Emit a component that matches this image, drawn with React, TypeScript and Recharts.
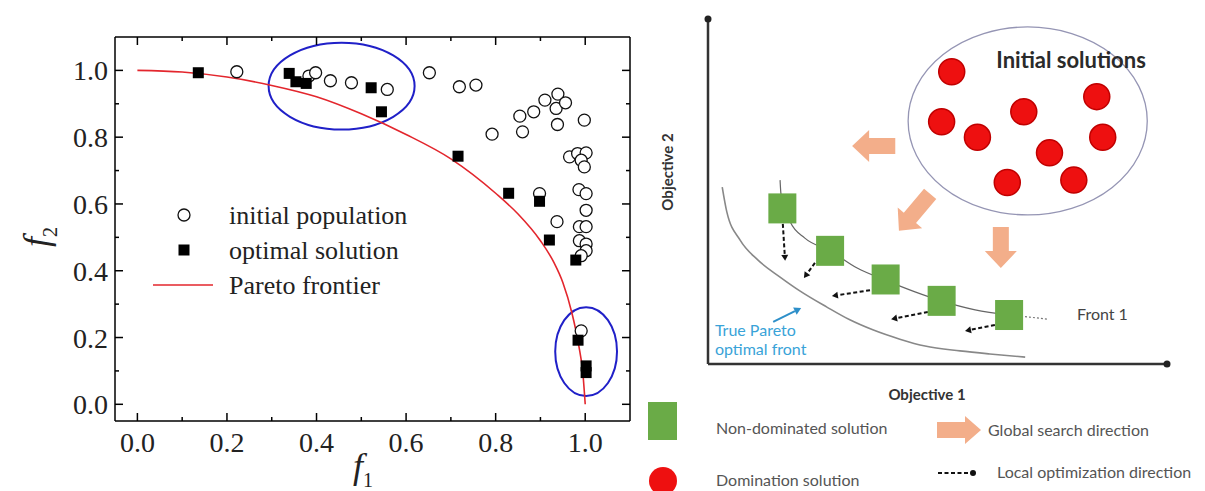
import React from "react";
import {
  ComposedChart,
  Legend,
  Line,
  ReferenceArea,
  ReferenceDot,
  ReferenceLine,
  Scatter,
  XAxis,
  YAxis,
} from "recharts";

const SERIF = '"Liberation Serif", "Times New Roman", serif';
const SANS = 'Lato, "Open Sans", sans-serif';

// ---------- left panel: f1 / f2 scatter ----------
const F_TICKS = [0, 0.1, 0.2, 0.3, 0.4, 0.5, 0.6, 0.7, 0.8, 0.9, 1.0];
const F_DOMAIN: [number, number] = [-0.05, 1.1];

const INITIAL_POPULATION: [number, number][] = [
  [0.222, 0.996], [0.383, 0.983], [0.398, 0.993], [0.431, 0.969], [0.478, 0.963],
  [0.558, 0.943], [0.652, 0.993], [0.719, 0.951], [0.756, 0.956], [0.792, 0.809],
  [0.854, 0.863], [0.86, 0.816], [0.885, 0.876], [0.91, 0.911], [0.939, 0.929],
  [0.935, 0.886], [0.956, 0.903], [0.938, 0.838], [0.998, 0.851], [0.965, 0.741],
  [0.983, 0.751], [1.002, 0.753], [0.991, 0.731], [0.998, 0.711], [0.986, 0.643],
  [1.002, 0.631], [0.898, 0.631], [1.002, 0.581], [0.937, 0.547], [0.987, 0.532],
  [1.002, 0.532], [0.987, 0.49], [1.002, 0.48], [1.002, 0.46], [0.991, 0.445],
  [0.991, 0.22],
];

const OPTIMAL_SOLUTIONS: [number, number][] = [
  [0.136, 0.993], [0.339, 0.991], [0.354, 0.966], [0.377, 0.961], [0.522, 0.948],
  [0.545, 0.876], [0.716, 0.743], [0.829, 0.632], [0.898, 0.608], [0.92, 0.492],
  [0.979, 0.432], [0.984, 0.192], [1.002, 0.115], [1.002, 0.095],
];

const PARETO_FRONTIER: [number, number][] = [
  [0, 1.0], [0.1, 0.995], [0.2, 0.98], [0.3, 0.955], [0.4, 0.921], [0.5, 0.87],
  [0.6, 0.808], [0.7, 0.735], [0.8, 0.632], [0.85, 0.57], [0.9, 0.49], [0.93, 0.425],
  [0.95, 0.365], [0.97, 0.275], [0.985, 0.18], [0.995, 0.09], [1.0, 0],
];

// x1, x2, y1, y2 of the blue highlight ellipses
const HIGHLIGHTS: [number, number, number, number][] = [
  [0.293, 0.619, 0.823, 1.083],
  [0.933, 1.071, 0.025, 0.291],
];

// corners used only to bind the mirrored frame axes
const FRAME_CORNERS: [number, number][] = [[-0.05, -0.05], [1.1, 1.1]];

const LEFT_LEGEND = ["initial population", "optimal solution", "Pareto frontier"];

// ---------- right panel: schematic (objective space 0..10) ----------
const DOMINATED: [number, number][] = [
  [5.31, 8.47], [5.09, 7.02], [5.87, 6.57], [6.88, 7.31], [8.47, 7.75],
  [8.6, 6.57], [7.44, 6.12], [6.52, 5.26], [7.97, 5.33],
];

const NON_DOMINATED: [number, number][] = [
  [1.62, 4.51], [2.66, 3.28], [3.87, 2.45], [5.09, 1.83], [6.56, 1.42],
];

const FRONT_1: [number, number][] = [
  [1.57, 5.33], [1.59, 4.93], [1.79, 4.12], [2.11, 3.65], [2.66, 3.28], [3.25, 2.78],
  [3.86, 2.43], [4.51, 2.09], [5.08, 1.83], [5.82, 1.57], [6.56, 1.42],
];
const FRONT_1_TAIL: [number, number][] = [[6.56, 1.42], [7.0, 1.36], [7.39, 1.3]];

const TRUE_FRONT: [number, number][] = [
  [0.31, 5.13], [0.41, 4.41], [0.7, 3.59], [1.09, 3.01], [1.57, 2.52], [2.0, 2.12],
  [2.59, 1.65], [3.09, 1.28], [3.59, 0.99], [4.18, 0.72], [4.73, 0.52], [5.49, 0.38],
  [6.14, 0.29], [6.91, 0.2],
];

// [fromX, fromY, toX, toY]
const LOCAL_MOVES: [number, number, number, number][] = [
  [1.63, 4.06, 1.68, 2.99],
  [2.33, 2.93, 2.09, 2.49],
  [3.53, 2.14, 2.7, 1.97],
  [4.79, 1.51, 3.99, 1.3],
  [6.25, 1.13, 5.6, 0.96],
];

const GLOBAL_MOVES: [number, number, number, number][] = [
  [4.08, 6.32, 3.14, 6.32],
  [4.84, 4.93, 4.16, 3.86],
  [6.38, 3.97, 6.38, 2.78],
];

const TRUE_FRONT_POINTER: [number, number, number, number] = [1.42, 1.22, 2.03, 1.62];

const INITIAL_REGION: [number, number, number, number] = [4.36, 9.57, 4.32, 9.77];

const NOTES = [
  { id: "initial", text: "Initial solutions", x: 7.91, y: 8.58 },
  { id: "front", text: "Front 1", x: 8.04, y: 1.28 },
  { id: "pareto", text: "True Pareto", x: 0.15, y: 0.81 },
  { id: "pareto", text: "optimal front", x: 0.15, y: 0.26 },
];

const NOTE_STYLE: Record<string, React.SVGProps<SVGTextElement>> = {
  initial: { textAnchor: "middle", fontSize: 22, fontWeight: 700, fill: "#2a2a2a" },
  front: { textAnchor: "start", fontSize: 16, fill: "#444" },
  pareto: { textAnchor: "start", fontSize: 16, fill: "#39a3d8" },
};

const RIGHT_LEGEND = [
  "Non-dominated solution",
  "Domination solution",
  "Global search direction",
  "Local optimization direction",
];

const toXY = (pts: [number, number][]) => pts.map(([x, y]) => ({ x, y }));

const GREEN = "#6aab47";
const RED = "#ee1010";
const SALMON = "#f3ae8a";
const PARETO_RED = "#e3262d";
const AXIS_LINE = { stroke: "#000", strokeWidth: 1.5 };

const isMajor = (v: number) => Math.round(v * 10) % 2 === 0;

function arrowPoints(x1: number, y1: number, x2: number, y2: number, body: number, head: number, headLen: number) {
  const len = Math.hypot(x2 - x1, y2 - y1) || 1;
  const ux = (x2 - x1) / len;
  const uy = (y2 - y1) / len;
  const nx = -uy;
  const ny = ux;
  const bx = x2 - ux * headLen;
  const by = y2 - uy * headLen;
  return [
    [x1 + nx * body, y1 + ny * body],
    [bx + nx * body, by + ny * body],
    [bx + nx * head, by + ny * head],
    [x2, y2],
    [bx - nx * head, by - ny * head],
    [bx - nx * body, by - ny * body],
    [x1 - nx * body, y1 - ny * body],
  ]
    .map((p) => p.join(","))
    .join(" ");
}

// ---------- tick renderers (inward ticks, Origin style) ----------
function BottomTick(props: any) {
  const { x, y, payload } = props;
  const major = isMajor(payload.value);
  return (
    <g>
      <line x1={x} x2={x} y1={y} y2={y - (major ? 8 : 4)} stroke="#000" strokeWidth={1.5} />
      {major && (
        <text x={x} y={y + 31} textAnchor="middle" fontFamily={SERIF} fontSize={28} fill="#222">
          {payload.value.toFixed(1)}
        </text>
      )}
    </g>
  );
}

function LeftTick(props: any) {
  const { x, y, payload } = props;
  const major = isMajor(payload.value);
  return (
    <g>
      <line x1={x} x2={x + (major ? 8 : 4)} y1={y} y2={y} stroke="#000" strokeWidth={1.5} />
      {major && (
        <text x={x - 7} y={y + 10} textAnchor="end" fontFamily={SERIF} fontSize={28} fill="#222">
          {payload.value.toFixed(1)}
        </text>
      )}
    </g>
  );
}

function TopTick(props: any) {
  const { x, y, payload } = props;
  return <line x1={x} x2={x} y1={y} y2={y + (isMajor(payload.value) ? 8 : 4)} stroke="#000" strokeWidth={1.5} />;
}

function RightTick(props: any) {
  const { x, y, payload } = props;
  return <line x1={x} x2={x - (isMajor(payload.value) ? 8 : 4)} y1={y} y2={y} stroke="#000" strokeWidth={1.5} />;
}

const F1Title = () => (
  <text x={363} y={478} textAnchor="middle" fontFamily={SERIF} fontSize={36} fill="#222">
    <tspan fontStyle="italic">f</tspan>
    <tspan fontSize={20} dy={9}>1</tspan>
  </text>
);

const F2Title = () => (
  <text x={48} y={237} transform="rotate(-90, 48, 237)" textAnchor="middle" fontFamily={SERIF} fontSize={36} fill="#222">
    <tspan fontStyle="italic">f</tspan>
    <tspan fontSize={20} dy={9}>2</tspan>
  </text>
);

const OpenCircle = (p: any) => <circle cx={p.cx} cy={p.cy} r={6} fill="#fff" stroke="#111" strokeWidth={1.3} />;
const FilledSquare = (p: any) => <rect x={p.cx - 5.5} y={p.cy - 5.5} width={11} height={11} fill="#000" />;
const NoMark = () => <g />;

const BlueEllipse = (p: any) => (
  <ellipse
    cx={p.x + p.width / 2}
    cy={p.y + p.height / 2}
    rx={Math.abs(p.width) / 2}
    ry={Math.abs(p.height) / 2}
    fill="none"
    stroke="#2020c8"
    strokeWidth={2}
  />
);

const LeftLegendContent = () => (
  <svg width={300} height={110}>
    {LEFT_LEGEND.map((name, i) => (
      <g key={name} transform={`translate(0, ${20 + i * 35})`}>
        {i === 0 && <circle cx={44} cy={0} r={6} fill="#fff" stroke="#111" strokeWidth={1.3} />}
        {i === 1 && <rect x={38.5} y={-5.5} width={11} height={11} fill="#000" />}
        {i === 2 && <line x1={13} x2={73} y1={0} y2={0} stroke={PARETO_RED} strokeWidth={1.6} />}
        <text x={89} y={9} fontFamily={SERIF} fontSize={26} fill="#222">
          {name}
        </text>
      </g>
    ))}
  </svg>
);

function ParetoPanel() {
  return (
    <ComposedChart width={640} height={491} margin={{ top: 36, right: 9, bottom: 0, left: 0 }}>
      <XAxis
        type="number"
        dataKey="x"
        domain={F_DOMAIN}
        ticks={F_TICKS}
        interval={0}
        allowDataOverflow
        height={70}
        tickSize={0}
        tickMargin={0}
        tickLine={false}
        axisLine={AXIS_LINE}
        tick={BottomTick}
        label={F1Title}
      />
      <YAxis
        type="number"
        dataKey="y"
        domain={F_DOMAIN}
        ticks={F_TICKS}
        interval={0}
        allowDataOverflow
        width={115}
        tickSize={0}
        tickMargin={0}
        tickLine={false}
        axisLine={AXIS_LINE}
        tick={LeftTick}
        label={F2Title}
      />
      <XAxis
        xAxisId="top"
        orientation="top"
        type="number"
        dataKey="x"
        domain={F_DOMAIN}
        ticks={F_TICKS}
        interval={0}
        allowDataOverflow
        height={1}
        tickSize={0}
        tickMargin={0}
        tickLine={false}
        axisLine={AXIS_LINE}
        tick={TopTick}
      />
      <YAxis
        yAxisId="right"
        orientation="right"
        type="number"
        dataKey="y"
        domain={F_DOMAIN}
        ticks={F_TICKS}
        interval={0}
        allowDataOverflow
        width={1}
        tickSize={0}
        tickMargin={0}
        tickLine={false}
        axisLine={AXIS_LINE}
        tick={RightTick}
      />
      <Scatter
        xAxisId="top"
        yAxisId="right"
        data={toXY(FRAME_CORNERS)}
        shape={NoMark}
        legendType="none"
        isAnimationActive={false}
      />
      {HIGHLIGHTS.map(([x1, x2, y1, y2], i) => (
        <ReferenceArea key={i} x1={x1} x2={x2} y1={y1} y2={y2} shape={BlueEllipse} />
      ))}
      <Scatter
        name="initial population"
        data={toXY(INITIAL_POPULATION)}
        shape={OpenCircle}
        isAnimationActive={false}
      />
      <Scatter
        name="optimal solution"
        data={toXY(OPTIMAL_SOLUTIONS)}
        shape={FilledSquare}
        isAnimationActive={false}
      />
      <Line
        name="Pareto frontier"
        data={toXY(PARETO_FRONTIER)}
        dataKey="y"
        type="monotone"
        stroke={PARETO_RED}
        strokeWidth={1.6}
        dot={false}
        activeDot={false}
        isAnimationActive={false}
      />
      <Legend
        layout="vertical"
        align="center"
        verticalAlign="middle"
        content={LeftLegendContent}
        wrapperStyle={{ left: 140, top: 195, width: 300, height: 110 }}
      />
    </ComposedChart>
  );
}

// ---------- right panel renderers ----------
const RedDot = (p: any) => <circle cx={p.cx} cy={p.cy} r={13} fill={RED} stroke="#c00000" strokeWidth={1.5} />;
const GreenSquare = (p: any) => <rect x={p.cx - 14} y={p.cy - 15} width={28} height={30} fill={GREEN} />;

const NoteText = (p: any) => (
  <text x={p.cx} y={p.cy} fontFamily={SANS} {...NOTE_STYLE[p.payload.id]}>
    {p.payload.text}
  </text>
);

const GrayEllipse = (p: any) => (
  <ellipse
    cx={p.x + p.width / 2}
    cy={p.y + p.height / 2}
    rx={Math.abs(p.width) / 2}
    ry={Math.abs(p.height) / 2}
    fill="none"
    stroke="#9595b4"
    strokeWidth={1.3}
  />
);

const SalmonArrow = (p: any) => (
  <polygon points={arrowPoints(p.x1, p.y1, p.x2, p.y2, 8, 16, 17)} fill={SALMON} />
);

function DashedArrow(p: any) {
  const len = Math.hypot(p.x2 - p.x1, p.y2 - p.y1) || 1;
  const ux = (p.x2 - p.x1) / len;
  const uy = (p.y2 - p.y1) / len;
  const nx = p.x2 - ux * 6;
  const ny = p.y2 - uy * 6;
  return (
    <g>
      <line x1={p.x1} y1={p.y1} x2={nx} y2={ny} stroke="#111" strokeWidth={2} strokeDasharray="4 2.5" />
      <polygon
        points={`${p.x2},${p.y2} ${nx - uy * 3.5},${ny + ux * 3.5} ${nx + uy * 3.5},${ny - ux * 3.5}`}
        fill="#111"
      />
    </g>
  );
}

function BluePointer(p: any) {
  const len = Math.hypot(p.x2 - p.x1, p.y2 - p.y1) || 1;
  const ux = (p.x2 - p.x1) / len;
  const uy = (p.y2 - p.y1) / len;
  const nx = p.x2 - ux * 7;
  const ny = p.y2 - uy * 7;
  return (
    <g>
      <line x1={p.x1} y1={p.y1} x2={nx} y2={ny} stroke="#2d8fc9" strokeWidth={2} />
      <polygon
        points={`${p.x2},${p.y2} ${nx - uy * 4},${ny + ux * 4} ${nx + uy * 4},${ny - ux * 4}`}
        fill="#2d8fc9"
      />
    </g>
  );
}

const Objective1Title = () => (
  <text x={287} y={400} textAnchor="middle" fontFamily={SANS} fontWeight={700} fontSize={15} fill="#333">
    Objective 1
  </text>
);

const Objective2Title = () => (
  <text x={33} y={172} transform="rotate(-90, 33, 172)" textAnchor="middle" fontFamily={SANS} fontWeight={700} fontSize={15} fill="#333">
    Objective 2
  </text>
);

const RightLegendContent = () => (
  <svg width={565} height={96} fontFamily={SANS}>
    <rect x={8} y={7} width={29} height={38} fill={GREEN} />
    <text x={76} y={39} fontSize={16} fill="#555">{RIGHT_LEGEND[0]}</text>
    <circle cx={23} cy={86} r={14} fill={RED} />
    <text x={76} y={91} fontSize={16} fill="#555">{RIGHT_LEGEND[1]}</text>
    <polygon points={arrowPoints(297, 35, 341, 35, 8, 14, 16)} fill={SALMON} />
    <text x={348} y={41} fontSize={16} fill="#555">{RIGHT_LEGEND[2]}</text>
    <line x1={298} x2={330} y1={78} y2={78} stroke="#111" strokeWidth={2} strokeDasharray="4 2.5" />
    <circle cx={333} cy={78} r={3} fill="#111" />
    <text x={357} y={83} fontSize={16} fill="#555">{RIGHT_LEGEND[3]}</text>
  </svg>
);

function SchematicPanel() {
  const diagramAxis = { stroke: "#333", strokeWidth: 2.5 };
  return (
    <ComposedChart width={565} height={491} margin={{ top: 19, right: 38, bottom: 0, left: 0 }}>
      <XAxis
        type="number"
        dataKey="x"
        domain={[0, 10]}
        allowDataOverflow
        height={127}
        tick={false}
        tickLine={false}
        axisLine={diagramAxis}
        label={Objective1Title}
      />
      <YAxis
        type="number"
        dataKey="y"
        domain={[0, 10]}
        allowDataOverflow
        width={68}
        tick={false}
        tickLine={false}
        axisLine={diagramAxis}
        label={Objective2Title}
      />
      <ReferenceArea
        x1={INITIAL_REGION[0]}
        x2={INITIAL_REGION[1]}
        y1={INITIAL_REGION[2]}
        y2={INITIAL_REGION[3]}
        shape={GrayEllipse}
      />
      <Line
        data={toXY(TRUE_FRONT)}
        dataKey="y"
        type="monotone"
        stroke="#888"
        strokeWidth={1.6}
        dot={false}
        activeDot={false}
        isAnimationActive={false}
      />
      <Line
        data={toXY(FRONT_1)}
        dataKey="y"
        type="monotone"
        stroke="#666"
        strokeWidth={1.2}
        dot={false}
        activeDot={false}
        isAnimationActive={false}
      />
      <Line
        data={toXY(FRONT_1_TAIL)}
        dataKey="y"
        type="linear"
        stroke="#777"
        strokeWidth={1.2}
        strokeDasharray="2 2"
        dot={false}
        activeDot={false}
        isAnimationActive={false}
      />
      {GLOBAL_MOVES.map(([x1, y1, x2, y2], i) => (
        <ReferenceLine key={`g${i}`} segment={[{ x: x1, y: y1 }, { x: x2, y: y2 }]} shape={SalmonArrow} />
      ))}
      {LOCAL_MOVES.map(([x1, y1, x2, y2], i) => (
        <ReferenceLine key={`l${i}`} segment={[{ x: x1, y: y1 }, { x: x2, y: y2 }]} shape={DashedArrow} />
      ))}
      <ReferenceLine
        segment={[
          { x: TRUE_FRONT_POINTER[0], y: TRUE_FRONT_POINTER[1] },
          { x: TRUE_FRONT_POINTER[2], y: TRUE_FRONT_POINTER[3] },
        ]}
        shape={BluePointer}
      />
      <Scatter data={toXY(DOMINATED)} shape={RedDot} isAnimationActive={false} />
      <Scatter data={toXY(NON_DOMINATED)} shape={GreenSquare} isAnimationActive={false} />
      <Scatter data={NOTES} shape={NoteText} isAnimationActive={false} />
      <ReferenceDot x={0} y={10} r={3.5} fill="#222" stroke="none" />
      <ReferenceDot x={10} y={0} r={3.5} fill="#222" stroke="none" />
      <Legend
        layout="vertical"
        align="center"
        verticalAlign="middle"
        content={RightLegendContent}
        wrapperStyle={{ left: 0, top: 395, width: 565, height: 96 }}
      />
    </ComposedChart>
  );
}

export default function App() {
  return (
    <div style={{ position: "absolute", left: 0, top: 0, width: 1205, height: 491, background: "#fff", overflow: "hidden" }}>
      <div style={{ position: "absolute", left: 0, top: 0 }}>
        <ParetoPanel />
      </div>
      <div style={{ position: "absolute", left: 640, top: 0 }}>
        <SchematicPanel />
      </div>
    </div>
  );
}
